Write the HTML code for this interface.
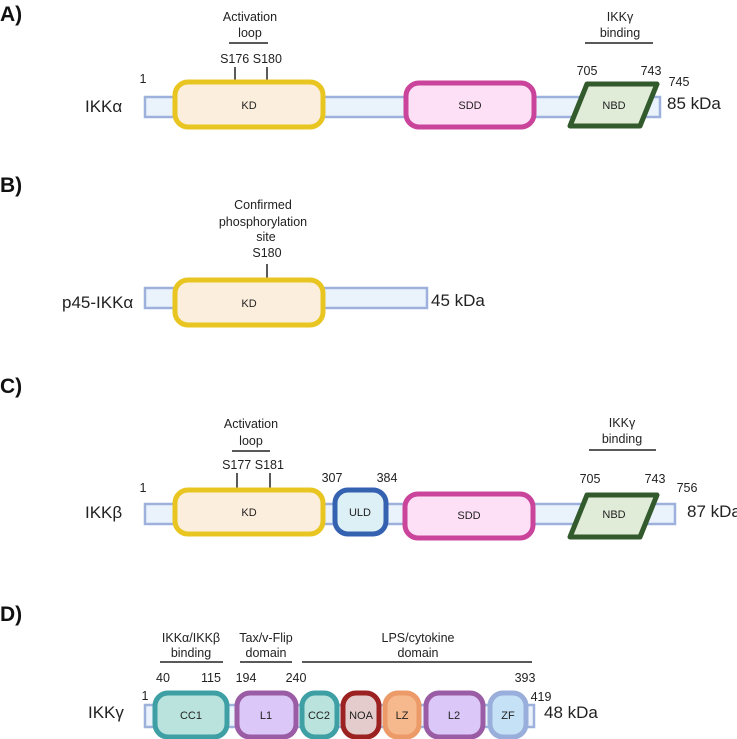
<!DOCTYPE html>
<html><head><meta charset="utf-8"><style>
html,body{margin:0;padding:0;background:#fff;}
svg{display:block;}
text{font-family:"Liberation Sans",sans-serif;fill:#222;}
.s{font-size:12.5px;}
.m{font-size:11px;}
.b{font-size:17px;}
.h{font-size:21px;font-weight:bold;fill:#111;}
.bar{fill:#EAF2FC;stroke:#9DB1DC;stroke-width:2.5;}
.tk{stroke:#222;stroke-width:1.5;}
</style></head><body>
<svg width="737" height="739" viewBox="0 0 737 739" xmlns="http://www.w3.org/2000/svg">
<!-- A -->
<text x="0" y="21" class="h">A)</text>
<text x="250" y="21" class="s" text-anchor="middle">Activation</text>
<text x="250" y="37" class="s" text-anchor="middle">loop</text>
<line x1="229" y1="43" x2="268" y2="43" class="tk"/>
<text x="251" y="63" class="s" text-anchor="middle">S176 S180</text>
<line x1="235" y1="67" x2="235" y2="81" class="tk"/>
<line x1="267" y1="67" x2="267" y2="81" class="tk"/>
<text x="620" y="21" class="s" text-anchor="middle">IKKγ</text>
<text x="620" y="37" class="s" text-anchor="middle">binding</text>
<line x1="585" y1="43" x2="653" y2="43" class="tk"/>
<text x="143" y="83" class="s" text-anchor="middle">1</text>
<text x="85" y="112" class="b">IKKα</text>
<rect x="145" y="97" width="515" height="20" class="bar"/>
<rect x="175" y="82" width="148" height="45" rx="13" fill="#FCEEDD" stroke="#E8C520" stroke-width="5"/>
<text x="249" y="109" class="m" text-anchor="middle">KD</text>
<rect x="406" y="83" width="128" height="44" rx="13" fill="#FDDFF6" stroke="#C9449A" stroke-width="5"/>
<text x="470" y="109" class="m" text-anchor="middle">SDD</text>
<polygon points="587,84 657,84 640,126 570,126" fill="#E0EBD8" stroke="#325A2C" stroke-width="5" stroke-linejoin="round"/>
<text x="614" y="109" class="m" text-anchor="middle">NBD</text>
<text x="587" y="75" class="s" text-anchor="middle">705</text>
<text x="651" y="75" class="s" text-anchor="middle">743</text>
<text x="679" y="86" class="s" text-anchor="middle">745</text>
<text x="667" y="109" class="b">85 kDa</text>

<!-- B -->
<text x="0" y="192" class="h">B)</text>
<text x="263" y="209" class="s" text-anchor="middle">Confirmed</text>
<text x="263" y="226" class="s" text-anchor="middle">phosphorylation</text>
<text x="266" y="241" class="s" text-anchor="middle">site</text>
<text x="267" y="257" class="s" text-anchor="middle">S180</text>
<line x1="267" y1="264" x2="267" y2="279" class="tk"/>
<text x="62" y="308" class="b">p45-IKKα</text>
<rect x="145" y="288" width="282" height="20" class="bar"/>
<rect x="175" y="280" width="148" height="45" rx="13" fill="#FCEEDD" stroke="#E8C520" stroke-width="5"/>
<text x="249" y="307" class="m" text-anchor="middle">KD</text>
<text x="431" y="306" class="b">45 kDa</text>

<!-- C -->
<text x="0" y="393" class="h">C)</text>
<text x="251" y="428" class="s" text-anchor="middle">Activation</text>
<text x="251" y="445" class="s" text-anchor="middle">loop</text>
<line x1="232" y1="451" x2="270" y2="451" class="tk"/>
<text x="253" y="469" class="s" text-anchor="middle">S177  S181</text>
<line x1="237" y1="473" x2="237" y2="488" class="tk"/>
<line x1="270" y1="473" x2="270" y2="488" class="tk"/>
<text x="622" y="427" class="s" text-anchor="middle">IKKγ</text>
<text x="622" y="443" class="s" text-anchor="middle">binding</text>
<line x1="589" y1="450" x2="656" y2="450" class="tk"/>
<text x="143" y="492" class="s" text-anchor="middle">1</text>
<text x="85" y="518" class="b">IKKβ</text>
<rect x="145" y="504" width="530" height="20" class="bar"/>
<rect x="175" y="490" width="148" height="44" rx="13" fill="#FCEEDD" stroke="#E8C520" stroke-width="5"/>
<text x="249" y="516" class="m" text-anchor="middle">KD</text>
<rect x="335" y="490" width="51" height="44" rx="13" fill="#DDF0F5" stroke="#3562B0" stroke-width="5"/>
<text x="360" y="516" class="m" text-anchor="middle">ULD</text>
<rect x="405" y="494" width="128" height="44" rx="13" fill="#FDDFF6" stroke="#C9449A" stroke-width="5"/>
<text x="469" y="519" class="m" text-anchor="middle">SDD</text>
<polygon points="587,495 657,495 640,537 570,537" fill="#E0EBD8" stroke="#325A2C" stroke-width="5" stroke-linejoin="round"/>
<text x="614" y="518" class="m" text-anchor="middle">NBD</text>
<text x="332" y="482" class="s" text-anchor="middle">307</text>
<text x="387" y="482" class="s" text-anchor="middle">384</text>
<text x="590" y="483" class="s" text-anchor="middle">705</text>
<text x="655" y="483" class="s" text-anchor="middle">743</text>
<text x="687" y="492" class="s" text-anchor="middle">756</text>
<text x="687" y="517" class="b">87 kDa</text>

<!-- D -->
<text x="0" y="621" class="h">D)</text>
<text x="191" y="642" class="s" text-anchor="middle">IKKα/IKKβ</text>
<text x="191" y="657" class="s" text-anchor="middle">binding</text>
<line x1="160" y1="662" x2="223" y2="662" class="tk"/>
<text x="266" y="642" class="s" text-anchor="middle">Tax/v-Flip</text>
<text x="266" y="657" class="s" text-anchor="middle">domain</text>
<line x1="240" y1="662" x2="292" y2="662" class="tk"/>
<text x="418" y="642" class="s" text-anchor="middle">LPS/cytokine</text>
<text x="418" y="657" class="s" text-anchor="middle">domain</text>
<line x1="302" y1="662" x2="532" y2="662" class="tk"/>
<text x="163" y="682" class="s" text-anchor="middle">40</text>
<text x="211" y="682" class="s" text-anchor="middle">115</text>
<text x="246" y="682" class="s" text-anchor="middle">194</text>
<text x="296" y="682" class="s" text-anchor="middle">240</text>
<text x="525" y="682" class="s" text-anchor="middle">393</text>
<text x="145" y="700" class="s" text-anchor="middle">1</text>
<text x="541" y="701" class="s" text-anchor="middle">419</text>
<text x="88" y="718" class="b">IKKγ</text>
<rect x="145" y="705" width="389" height="22" class="bar"/>
<rect x="155" y="693" width="72" height="44" rx="13" fill="#B9E3DC" stroke="#3E9FA5" stroke-width="5"/>
<text x="191" y="719" class="m" text-anchor="middle">CC1</text>
<rect x="237" y="693" width="59" height="44" rx="13" fill="#DCC8F8" stroke="#9A5CA4" stroke-width="5"/>
<text x="266" y="719" class="m" text-anchor="middle">L1</text>
<rect x="302" y="693" width="35" height="44" rx="13" fill="#B9E3DC" stroke="#3E9FA5" stroke-width="5"/>
<text x="319" y="719" class="m" text-anchor="middle">CC2</text>
<rect x="343" y="693" width="36" height="44" rx="13" fill="#E4CCCC" stroke="#9C2222" stroke-width="5"/>
<text x="361" y="719" class="m" text-anchor="middle">NOA</text>
<rect x="385" y="693" width="34" height="44" rx="13" fill="#F6B98E" stroke="#EC9A68" stroke-width="5"/>
<text x="402" y="719" class="m" text-anchor="middle">LZ</text>
<rect x="426" y="693" width="57" height="44" rx="13" fill="#DCC8F8" stroke="#9A5CA4" stroke-width="5"/>
<text x="454" y="719" class="m" text-anchor="middle">L2</text>
<rect x="490" y="693" width="36" height="44" rx="13" fill="#C5E1F6" stroke="#9AAEDC" stroke-width="5"/>
<text x="508" y="719" class="m" text-anchor="middle">ZF</text>
<text x="544" y="718" class="b">48 kDa</text>
</svg>
</body></html>
